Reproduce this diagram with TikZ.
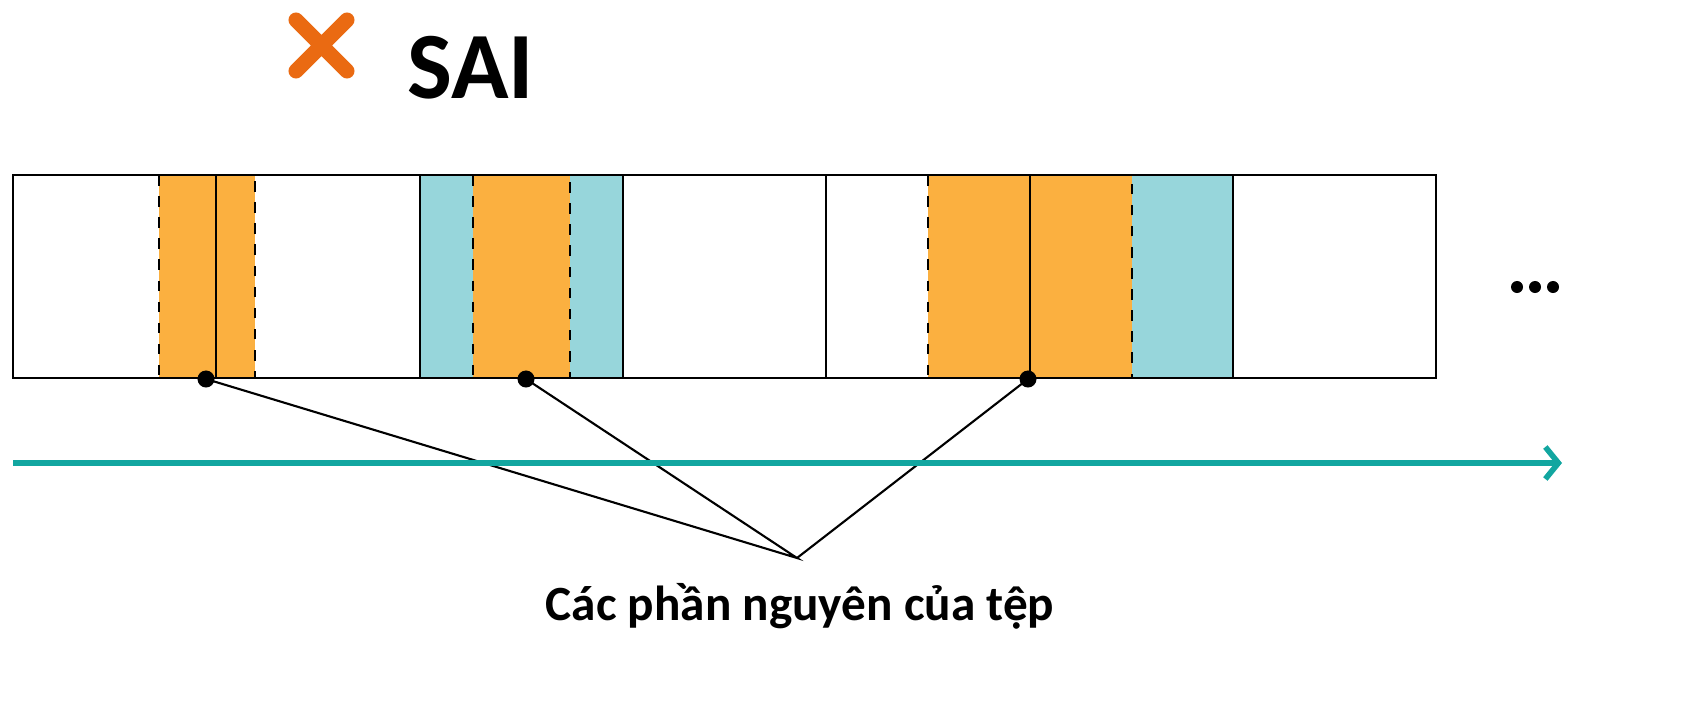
\documentclass[tikz,border=0pt]{standalone}
\usepackage{fontspec}
\setmainfont{Carlito}
\usetikzlibrary{arrows.meta}
\definecolor{org}{HTML}{FBB040}
\definecolor{tealf}{HTML}{97D6DB}
\definecolor{tealA}{HTML}{12A6A0}
\definecolor{xorg}{HTML}{EA6A12}
\begin{document}
\begin{tikzpicture}[x=0.01cm,y=-0.01cm,
  frag/.style={fill=org,draw=black,dashed,line width=0.6pt},
  cellline/.style={draw=black,line width=0.6pt},
  dotn/.style={circle,fill=black,inner sep=0pt,minimum size=0.17cm},
  lead/.style={draw=black,line width=0.6pt}]
\useasboundingbox (0,0) rectangle (1708,703);
% teal cells
\fill[tealf] (420,175) rectangle (623,378);
\fill[tealf] (1132,175) rectangle (1233,378);
% orange fragments
\draw[frag] (159,175) rectangle (255,378);
\draw[frag] (473,175) rectangle (570,378);
\draw[frag] (928,175) rectangle (1132,378);
% strip
\draw[cellline] (13,175) rectangle (1436,378);
\foreach \x in {420,623,826,1233} \draw[cellline] (\x,175) -- (\x,378);
\draw[cellline] (216,175) -- (216,378);
\draw[cellline] (1030,175) -- (1030,378);
% dots
\node[dotn] (d1) at (206,379) {};
\node[dotn] (d2) at (526,379) {};
\node[dotn] (d3) at (1028,379) {};
\coordinate (m) at (797,558);
\draw[lead] (d1.center) -- (m) -- (d2.center);
\draw[lead] (d3.center) -- (m);
% arrow
\coordinate (a0) at (13,463);
\coordinate (a1) at (1562,463);
\draw[tealA,line width=1.6pt,-{Straight Barb[length=0.13cm,width=0.32cm]}] (a0) -- (a1);
% dots ellipsis
\foreach \x in {1517,1535,1553} \fill (\x,287) circle (0.06cm);
% label
\node[font=\bfseries\fontsize{14}{16}\selectfont] (lbl) at (800,606) {Các phần nguyên của tệp};
% title
\draw[xorg,line width=0.15cm,line cap=round] (296,20) -- (347,71) (347,20) -- (296,71);
\node[font=\bfseries\fontsize{27}{30}\selectfont,anchor=west] (sai) at (395,68) {SAI};
\end{tikzpicture}
\end{document}
